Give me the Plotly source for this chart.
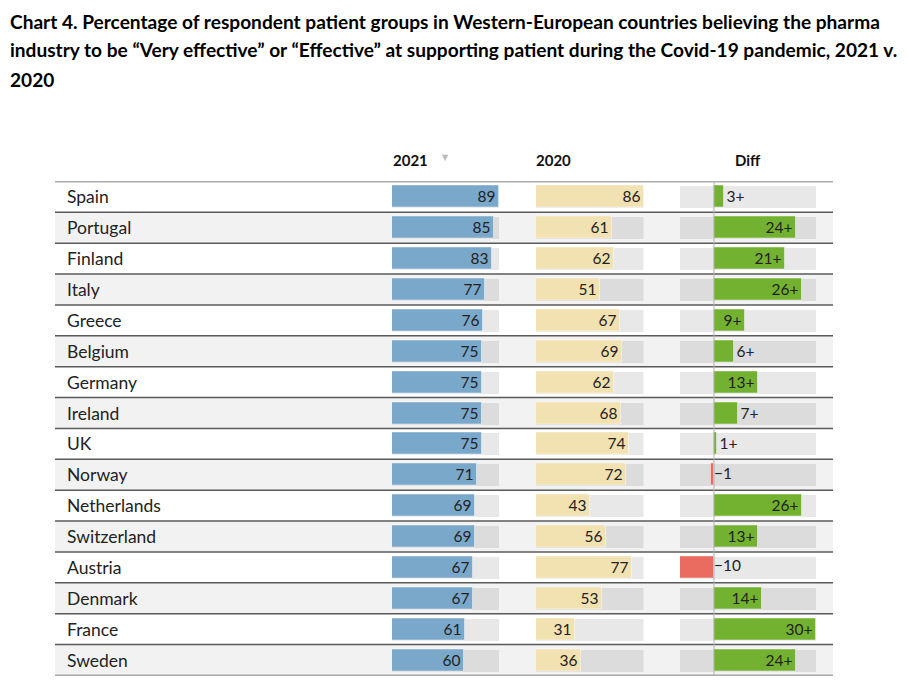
import plotly.graph_objects as go

countries = ["Spain", "Portugal", "Finland", "Italy", "Greece", "Belgium", "Germany",
             "Ireland", "UK", "Norway", "Netherlands", "Switzerland", "Austria",
             "Denmark", "France", "Sweden"]
v2021 = [89, 85, 83, 77, 76, 75, 75, 75, 75, 71, 69, 69, 67, 67, 61, 60]
v2020 = [86, 61, 62, 51, 67, 69, 62, 68, 74, 72, 43, 56, 77, 53, 31, 36]
diff = [a - b for a, b in zip(v2021, v2020)]

col_headers = ["2021", "2020", "Diff"]
title_lines = [
    "Chart 4. Percentage of respondent patient groups in Western-European countries believing the pharma",
    "industry to be \u201cVery effective\u201d or \u201cEffective\u201d at supporting patient during the Covid-19 pandemic, 2021 v.",
    "2020",
]

W, H = 907, 690
FONT = "Lato"
BLUE = "rgb(122,168,202)"
BEIGE = "rgb(242,225,177)"
GREEN = "rgb(115,178,48)"
RED = "rgb(234,107,95)"
TRACK = "rgba(0,0,0,0.09)"
TXT = "#222222"

n = len(countries)
idx = list(range(n))
BW = 0.71

def px(x):
    return x / W

def py(y):
    return (H - y) / H

fig = go.Figure()

def value_bars(values, axis, color):
    fig.add_trace(go.Bar(y=idx, x=[max(values)] * n, orientation="h", width=BW,
                         marker=dict(color=TRACK, line=dict(width=0)),
                         xaxis=axis, yaxis="y", hoverinfo="skip", showlegend=False))
    fig.add_trace(go.Bar(y=idx, x=values, orientation="h", width=BW,
                         marker=dict(color=color, line=dict(color="rgba(255,255,255,0.45)", width=1)),
                         text=[str(v) for v in values], textposition="inside",
                         insidetextanchor="end", constraintext="none", textangle=0,
                         insidetextfont=dict(family=FONT, size=15.5, color=TXT),
                         xaxis=axis, yaxis="y", showlegend=False))

value_bars(v2021, "x", BLUE)
value_bars(v2020, "x2", BEIGE)

# Diff column
dmin, dmax = min(diff), max(diff)
INSIDE_MIN = 9
fig.add_trace(go.Bar(y=idx, x=[dmax - dmin] * n, base=[dmin] * n, orientation="h", width=BW,
                     marker=dict(color=TRACK, line=dict(width=0)),
                     xaxis="x3", yaxis="y", hoverinfo="skip", showlegend=False))
fig.add_trace(go.Bar(y=idx, x=diff, orientation="h", width=BW,
                     marker=dict(color=[GREEN if d >= 0 else RED for d in diff],
                                 line=dict(color="rgba(255,255,255,0.45)", width=1)),
                     text=[f"{d}+" if d > 0 else "" for d in diff],
                     textposition=["inside" if d >= INSIDE_MIN else "outside" for d in diff],
                     insidetextanchor="end", constraintext="none", textangle=0, cliponaxis=False,
                     insidetextfont=dict(family=FONT, size=15.5, color=TXT),
                     outsidetextfont=dict(family=FONT, size=15.5, color=TXT),
                     xaxis="x3", yaxis="y", showlegend=False))
neg_idx = [i for i, d in enumerate(diff) if d < 0]
fig.add_trace(go.Scatter(y=neg_idx, x=[0] * len(neg_idx), mode="text",
                         text=[f"\u2212{abs(diff[i])}" for i in neg_idx], textposition="middle right",
                         textfont=dict(family=FONT, size=15.5, color=TXT),
                         xaxis="x3", yaxis="y", hoverinfo="skip", showlegend=False))

shapes = []
for i in idx:
    if i % 2 == 1:
        shapes.append(dict(type="rect", xref="paper", yref="y", x0=px(55), x1=px(833),
                           y0=i - 0.5, y1=i + 0.5, fillcolor="#f2f2f2",
                           line=dict(width=0), layer="below"))
for i in range(n + 1):
    shapes.append(dict(type="line", xref="paper", yref="y", x0=px(55), x1=px(833),
                       y0=i - 0.5, y1=i - 0.5, line=dict(color="#5a5a5a", width=1.5),
                       layer="above"))
shapes.append(dict(type="line", xref="x3", yref="y", x0=0, x1=0, y0=-0.5, y1=n - 0.5,
                   line=dict(color="#b0b0b0", width=1), layer="above"))

annotations = []
for i, c in enumerate(countries):
    annotations.append(dict(xref="paper", yref="y", x=px(65), y=i, text=c, showarrow=False,
                            xanchor="left", yanchor="middle",
                            font=dict(family=FONT, size=17.5, color=TXT)))
for name, xc in zip(col_headers, [410, 553, 748]):
    annotations.append(dict(xref="paper", yref="paper", x=px(xc), y=py(160), text=f"<b>{name}</b>",
                            showarrow=False, xanchor="center", yanchor="middle",
                            font=dict(family=FONT, size=15, color="#111111")))
annotations.append(dict(xref="paper", yref="paper", x=px(445), y=py(158), text="\u25bc",
                        showarrow=False, xanchor="center", yanchor="middle",
                        font=dict(family="DejaVu Sans", size=8, color="#bbbbbb")))
for line, yc in zip(title_lines, [21, 50, 79]):
    annotations.append(dict(xref="paper", yref="paper", x=px(8), y=py(yc), text=f"<b>{line}</b>",
                            showarrow=False, xanchor="left", yanchor="middle",
                            font=dict(family=FONT, size=19.1, color="#000000")))

ydom = [py(675.5), py(181.5)]
fig.update_layout(
    width=W, height=H, margin=dict(l=0, r=0, t=0, b=0),
    paper_bgcolor="white", plot_bgcolor="rgba(0,0,0,0)",
    barmode="overlay", bargap=0,
    xaxis=dict(domain=[px(392), px(499)], range=[0, max(v2021)], visible=False, fixedrange=True),
    xaxis2=dict(domain=[px(536), px(643.5)], range=[0, max(v2020)], visible=False, fixedrange=True),
    xaxis3=dict(domain=[px(680), px(816)], range=[dmin, dmax], visible=False, fixedrange=True),
    yaxis=dict(domain=ydom, range=[n - 0.5, -0.5], visible=False, fixedrange=True),
    shapes=shapes, annotations=annotations,
    showlegend=False,
)

fig.write_html("out.html", config={"displayModeBar": False},
               post_script="document.body.style.margin='0';document.body.style.overflow='hidden';")
